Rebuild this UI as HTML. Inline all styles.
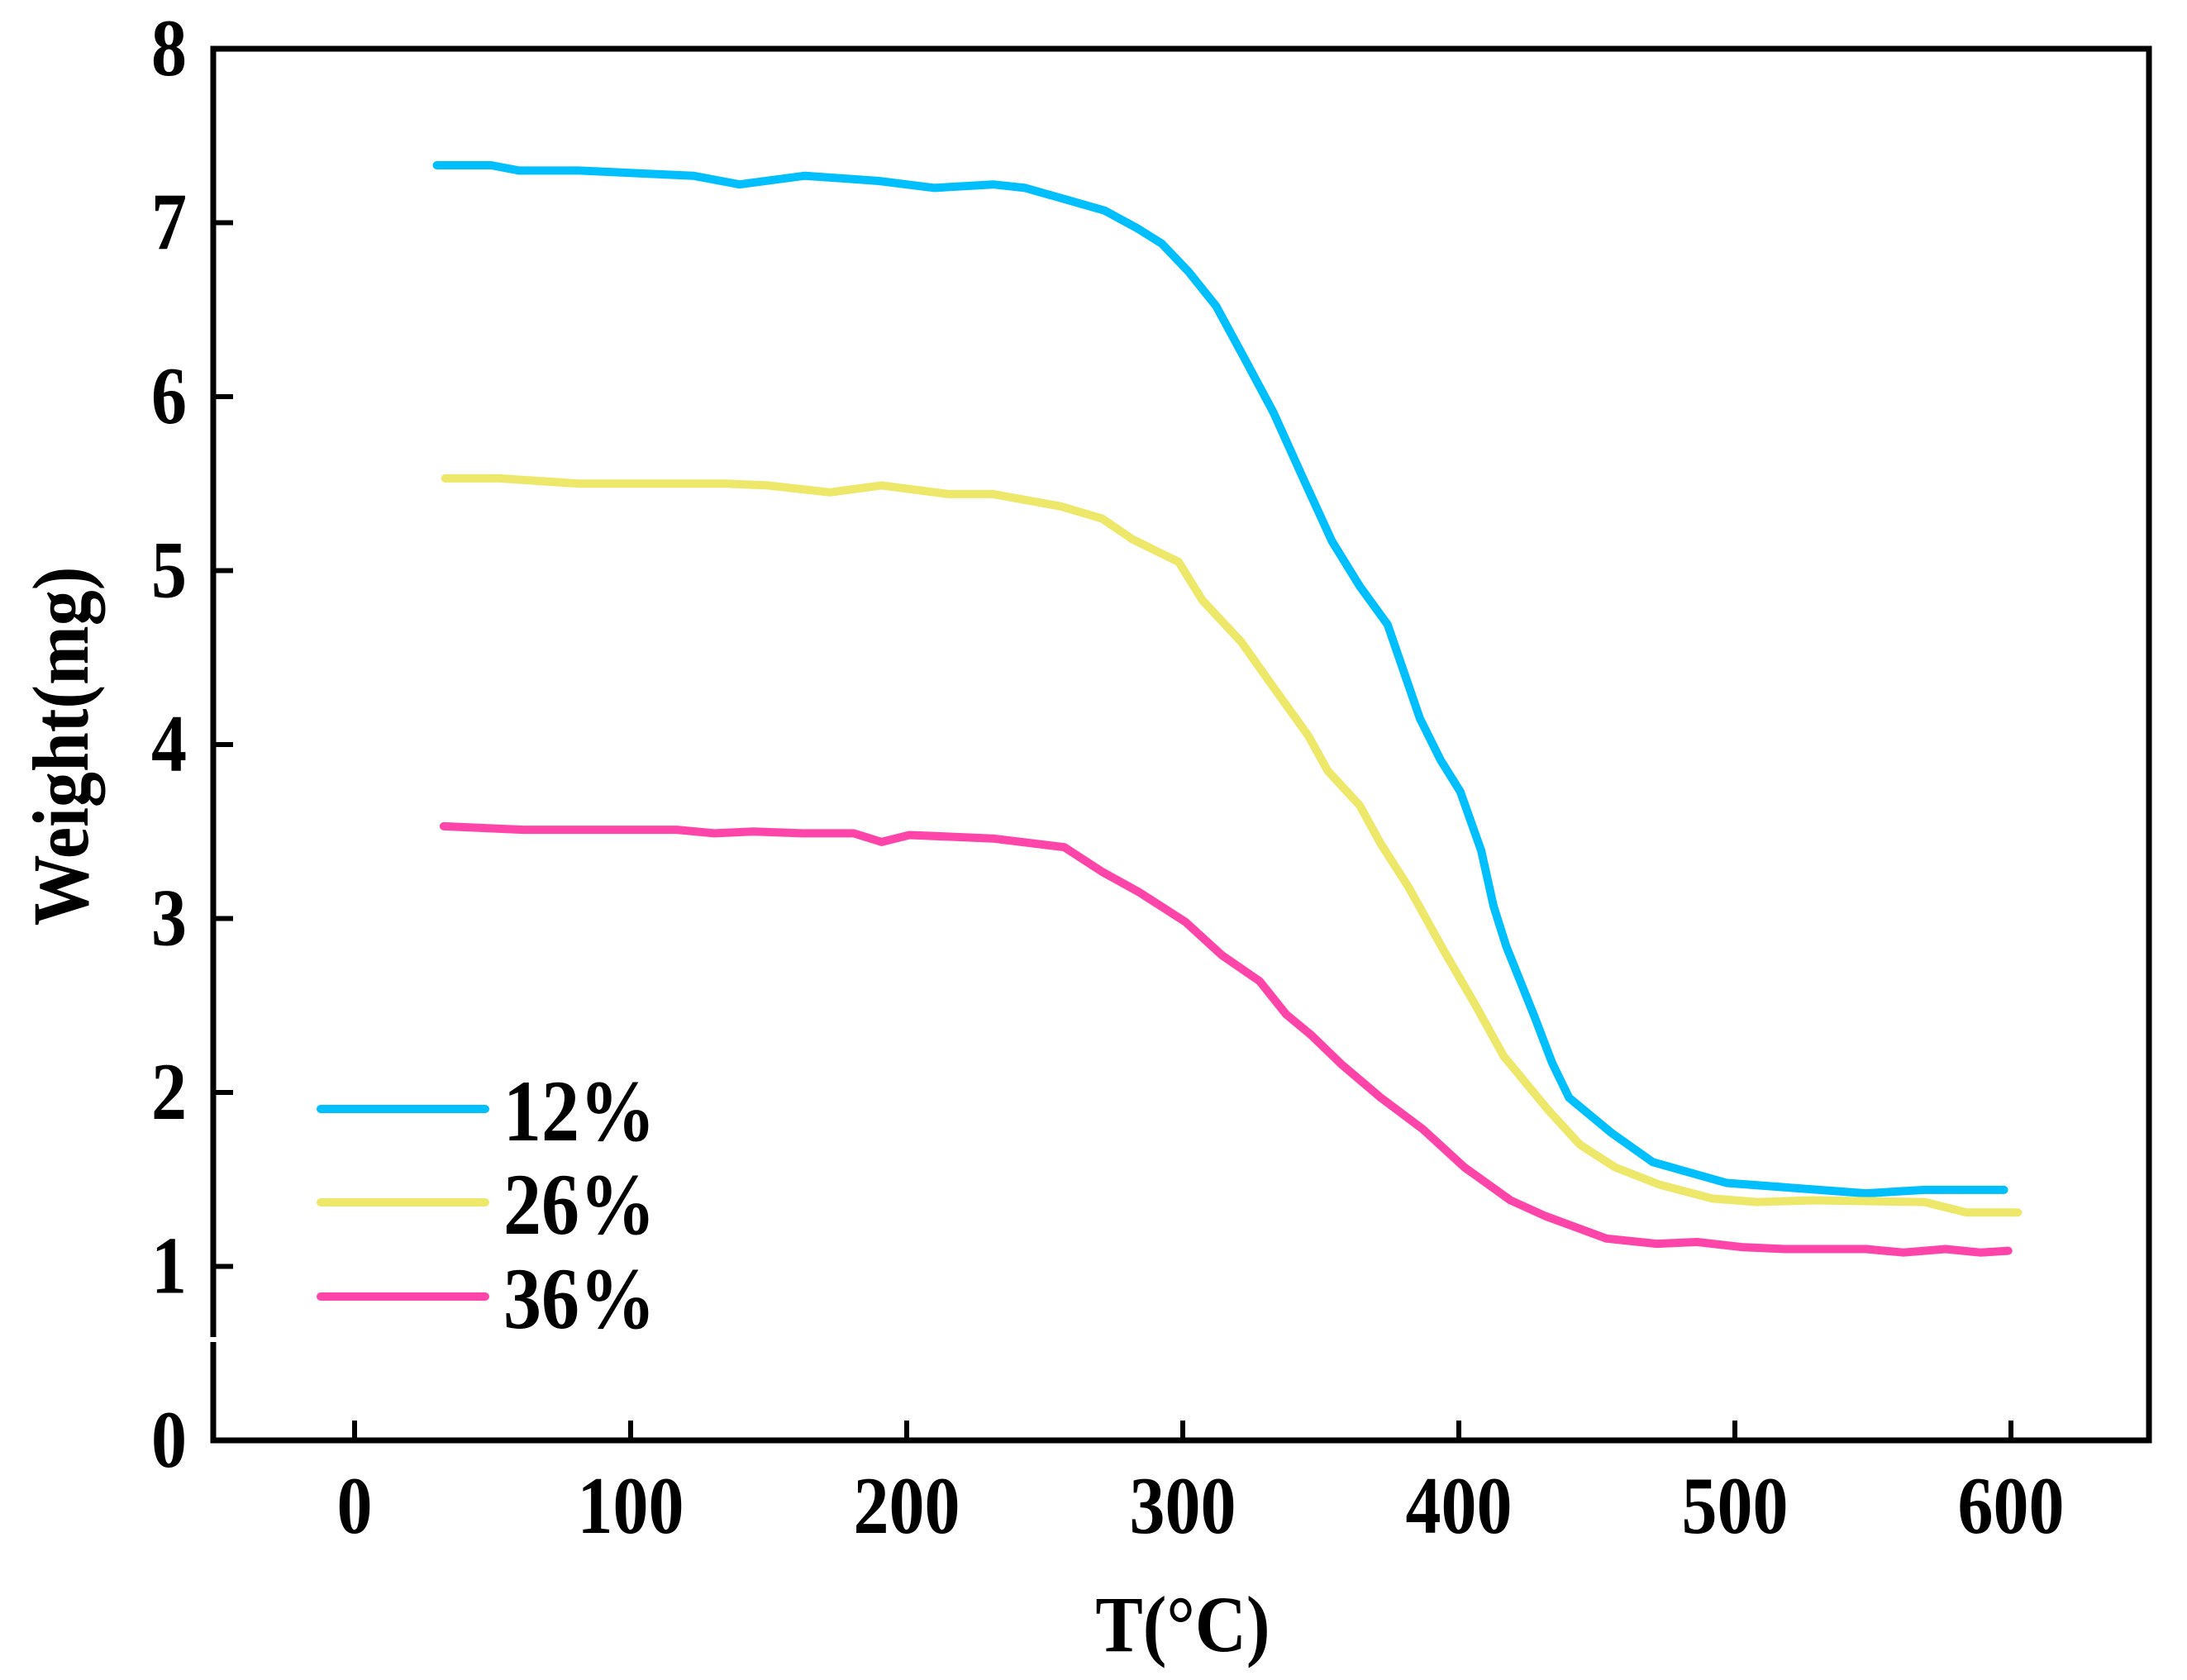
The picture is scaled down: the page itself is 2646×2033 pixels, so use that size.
<!DOCTYPE html>
<html><head><meta charset="utf-8"><style>html,body{margin:0;padding:0;background:#fff}svg{display:block}svg text{font-family:"Liberation Serif","Times New Roman",serif;font-weight:bold}</style></head>
<body>
<svg id="chart" width="2646" height="2033" viewBox="0 0 2646 2033" xmlns="http://www.w3.org/2000/svg">
<g id="axes"></g>
<g id="series"></g>
<g id="legend"></g>
<text x="0" y="0" font-size="86" text-anchor="middle" transform="translate(1431,1998) scale(1,1.12)">T(°C)</text>
<text x="0" y="0" font-size="86" text-anchor="middle" transform="translate(106,903) rotate(-90) scale(1,1.12)">Weight(mg)</text>
</svg>
<script>
const xTicks = [0,100,200,300,400,500,600];
const yTicks = [0,1,2,3,4,5,6,7,8];
const seriesNames = ["12%","26%","36%"];
const seriesColors = ["#00BFFF","#EEE86A","#FF44AA"];
const t12 = [29.8,49.5,59.6,81.3,122.7,139.4,163.1,189.9,210.1,231.3,242.9,271.7,283.3,292.4,302.0,312.1,322.7,332.8,343.9,354.0,364.1,374.2,385.9,393.4,400.5,408.1,412.6,417.2,427.3,433.8,439.9,455.1,470.2,497.0,547.5,568.7,597.5];
const w12 = [7.33,7.33,7.30,7.30,7.27,7.22,7.27,7.24,7.20,7.22,7.20,7.07,6.97,6.88,6.72,6.52,6.21,5.91,5.52,5.17,4.91,4.69,4.15,3.91,3.73,3.39,3.07,2.84,2.44,2.17,1.97,1.77,1.60,1.48,1.42,1.44,1.44];
const t26 = [32.8,52.5,81.3,134.3,149.5,172.2,190.9,215.2,231.3,255.6,270.7,281.8,298.5,307.1,321.2,332.8,345.5,352.5,364.1,371.7,381.8,394.4,406.1,416.2,432.3,443.9,456.6,472.7,491.9,508.1,528.3,568.7,583.8,602.5];
const w26 = [5.53,5.53,5.50,5.50,5.49,5.45,5.49,5.44,5.44,5.37,5.30,5.18,5.05,4.83,4.59,4.33,4.05,3.85,3.65,3.43,3.18,2.82,2.50,2.21,1.90,1.70,1.57,1.47,1.39,1.37,1.38,1.37,1.31,1.31];
const t36 = [32.3,61.1,116.7,130.3,144.4,162.1,180.8,190.9,201.0,231.3,257.1,270.7,284.3,301.0,314.1,327.8,337.4,346.5,357.6,371.7,386.9,402.0,418.7,431.3,453.5,471.7,486.4,503.0,518.2,530.8,547.5,561.1,576.3,588.9,599.0];
const w36 = [3.53,3.51,3.51,3.49,3.50,3.49,3.49,3.44,3.48,3.46,3.41,3.27,3.15,2.98,2.79,2.64,2.45,2.33,2.16,1.97,1.79,1.57,1.38,1.29,1.16,1.13,1.14,1.11,1.10,1.10,1.10,1.08,1.10,1.08,1.09];

const NS = "http://www.w3.org/2000/svg";
const L=258, R=2600, T=59, B=1743;
const xS = v => 429 + v*3.34;
const yS = v => B - v*(B-T)/8;
function mk(tag, attrs, parent){const e=document.createElementNS(NS,tag);for(const k in attrs)e.setAttribute(k,attrs[k]);parent.appendChild(e);return e;}
const axes=document.getElementById('axes');
const frame = mk('rect',{x:L,y:T,width:R-L,height:B-T,fill:'none',stroke:'#000','stroke-width':7},axes);


const brk = mk('rect',{x:L-5,y:1618,width:10,height:6,fill:'#fff'},axes);


xTicks.forEach(v=>{
  const tk=mk('line',{x1:xS(v),x2:xS(v),y1:B,y2:B-24,stroke:'#000','stroke-width':6},axes);
  
  
  const lb=mk('text',{x:0,y:0,'font-size':86,'text-anchor':'middle',transform:'translate('+xS(v)+',1855) scale(1,1.14)'},axes);
  lb.textContent=v;
  
  
});
yTicks.forEach(v=>{
  if(v>0&&v<8){
    const tk=mk('line',{x1:L,x2:L+24,y1:yS(v),y2:yS(v),stroke:'#000','stroke-width':6},axes);
    
    
  }
  const lb=mk('text',{x:0,y:0,'font-size':86,'text-anchor':'end',transform:'translate(226,'+(yS(v)+32)+') scale(1,1.14)'},axes);
  lb.textContent=v;
  
  
});
const ser=document.getElementById('series');
[[t12,w12],[t26,w26],[t36,w36]].forEach((d,i)=>{
  const pts=d[0].map((t,j)=>xS(t).toFixed(1)+','+yS(d[1][j]).toFixed(1)).join(' ');
  const pl=mk('polyline',{points:pts,fill:'none',stroke:seriesColors[i],'stroke-width':10,'stroke-linejoin':'round','stroke-linecap':'round'},ser);
  
  
});
const leg=document.getElementById('legend');
const legY=[1342,1455,1569];
seriesNames.forEach((n,i)=>{
  const ln=mk('line',{x1:388,x2:587,y1:legY[i],y2:legY[i],stroke:seriesColors[i],'stroke-width':10,'stroke-linecap':'round'},leg);
  
  
  const tx=mk('text',{x:0,y:0,'font-size':92,transform:'translate(609,'+(legY[i]+38)+') scale(1,1.15)'},leg);
  tx.textContent=n;
  
  
});
</script>
</body></html>
